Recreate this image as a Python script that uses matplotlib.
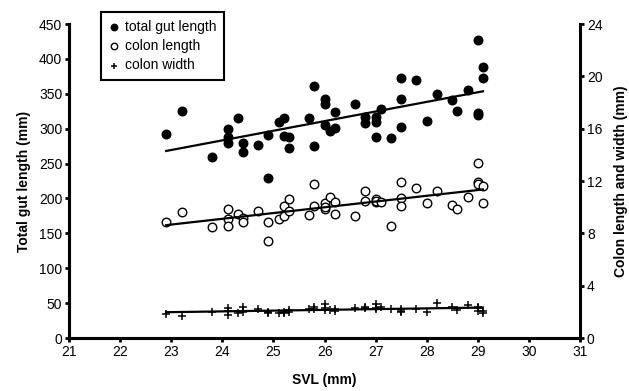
import numpy as np
import matplotlib.pyplot as plt

plt.rcParams['font.family'] = ['Liberation Sans', 'DejaVu Sans']

# snout-vent length of each specimen (mm)
svl = [22.9, 23.2, 23.8, 24.1, 24.1, 24.1, 24.3, 24.4, 24.4, 24.7,
       24.9, 24.9, 25.1, 25.2, 25.2, 25.3, 25.3, 25.7, 25.8, 25.8,
       26.0, 26.0, 26.0, 26.1, 26.2, 26.2, 26.6, 26.8, 26.8, 27.0,
       27.0, 27.0, 27.1, 27.3, 27.5, 27.5, 27.5, 27.8, 28.0, 28.2,
       28.5, 28.6, 28.8, 29.0, 29.0, 29.0, 29.1, 29.1]

# total gut length (mm), left axis
gut_len = [293, 325, 260, 300, 288, 280, 316, 279, 267, 277,
           291, 230, 310, 315, 289, 288, 273, 315, 361, 275,
           342, 336, 305, 296, 324, 301, 335, 317, 308, 317,
           310, 288, 328, 287, 373, 343, 302, 370, 311, 350,
           341, 325, 356, 427, 322, 320, 389, 372]

# colon length (mm), right axis
colon_len = [8.9, 9.6, 8.5, 9.9, 9.1, 8.6, 9.45, 9.2, 8.9, 9.7,
             8.9, 7.4, 9.1, 10.1, 9.3, 10.6, 9.7, 9.4, 11.8, 10.1,
             10.3, 9.9, 10.0, 10.8, 10.4, 9.5, 9.3, 11.2, 10.5, 10.6,
             10.4, 10.5, 10.4, 8.6, 11.9, 10.7, 10.1, 11.5, 10.3, 11.2,
             10.2, 9.9, 10.8, 13.4, 11.9, 11.75, 10.3, 11.6]

# colon width (mm), right axis
colon_wid = [1.85, 1.7, 2.0, 2.3, 2.1, 1.75, 1.95, 2.35, 2.0, 2.2,
             2.0, 1.9, 1.95, 2.0, 1.9, 2.15, 2.0, 2.2, 2.4, 2.2,
             2.6, 2.15, 2.3, 2.15, 2.2, 2.1, 2.27, 2.4, 2.3, 2.6,
             2.2, 2.3, 2.4, 2.2, 2.2, 2.0, 2.1, 2.2, 2.0, 2.65,
             2.4, 2.15, 2.5, 2.4, 2.3, 2.1, 2.1, 1.95]

x = np.array(svl)
xf = np.array([x.min(), x.max()])

fig = plt.figure(figsize=(6.29, 3.91), dpi=100)
ax = fig.add_axes([0.11, 0.1355, 0.812, 0.803])
ax2 = ax.twinx()

h1 = ax.scatter(x, gut_len, s=38, c='black', edgecolors='black', zorder=3,
                label='total gut length')
p = np.polyfit(x, gut_len, 1)
ax.plot(xf, np.polyval(p, xf), color='black', lw=1.6, zorder=4)

h2 = ax2.scatter(x, colon_len, s=38, facecolors='white', edgecolors='black',
                 linewidths=1.0, zorder=3, label='colon length')
p = np.polyfit(x, colon_len, 1)
ax2.plot(xf, np.polyval(p, xf), color='black', lw=1.6, zorder=4)

h3 = ax2.scatter(x, colon_wid, s=40, marker='+', c='black', linewidths=1.1,
                 zorder=3, label='colon width')
p = np.polyfit(x, colon_wid, 1)
ax2.plot(xf, np.polyval(p, xf), color='black', lw=1.6, zorder=4)

ax.set_xlim(21, 31)
ax.set_xticks(range(21, 32))
ax.set_ylim(0, 450)
ax.set_yticks(range(0, 451, 50))
ax2.set_ylim(0, 24)
ax2.set_yticks(range(0, 25, 4))

for a in (ax, ax2):
    a.spines['top'].set_visible(False)
    for side in ('left', 'bottom', 'right'):
        a.spines[side].set_linewidth(2.2)
    a.tick_params(direction='out', length=3, width=2, labelsize=10, pad=2)
ax.spines['right'].set_visible(False)

ax.set_xlabel('SVL (mm)', fontsize=10, fontweight='bold', labelpad=10)
ax.set_ylabel('Total gut length (mm)', fontsize=10, fontweight='bold', labelpad=6)
ax2.set_ylabel('Colon length and width (mm)', fontsize=10, fontweight='bold', labelpad=8)

leg = fig.legend(handles=[h1, h2, h3], loc='upper left',
                 bbox_to_anchor=(101 / 629, 1 - 12 / 391), borderaxespad=0,
                 fontsize=10, frameon=True, fancybox=False, handlelength=0.7,
                 handletextpad=0.5, borderpad=0.55, labelspacing=0.38,
                 markerscale=0.75, framealpha=1)
leg.get_frame().set_edgecolor('black')
leg.get_frame().set_linewidth(1.5)

fig.savefig('out.png', dpi=100)
